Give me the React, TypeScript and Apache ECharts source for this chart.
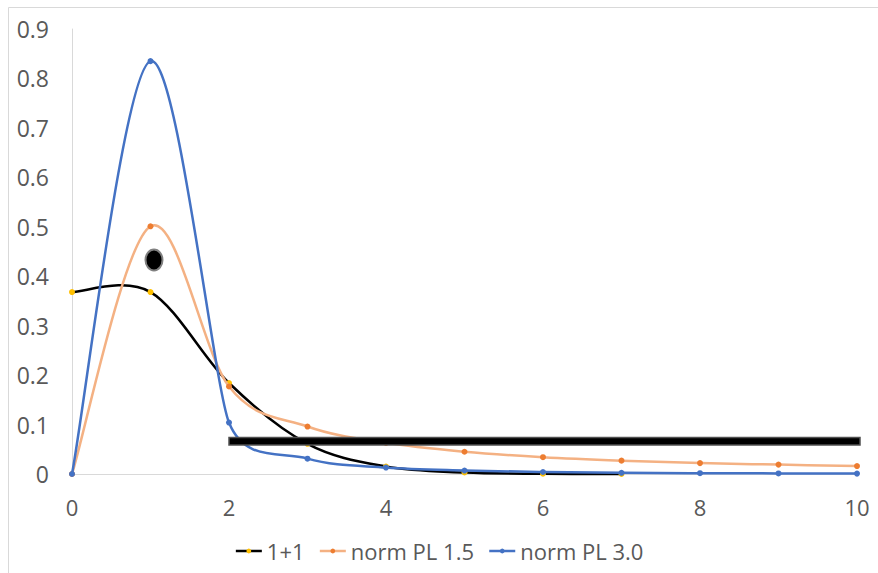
import React, { useEffect, useRef } from "react";
import * as echarts from "echarts";

const xValues = [0, 1, 2, 3, 4, 5, 6, 7, 8, 9, 10];
const seriesNames = ["1+1", "norm PL 1.5", "norm PL 3.0"];
const onePlusOne = [0.368, 0.368, 0.184, 0.061, 0.015, 0.003, 0.0005, 0.0001];
const normPL15 = [0, 0.501, 0.177, 0.096, 0.063, 0.045, 0.034, 0.027, 0.022, 0.019, 0.016];
const normPL30 = [0, 0.835, 0.104, 0.031, 0.013, 0.007, 0.004, 0.0024, 0.0016, 0.0012, 0.0008];
const lineColors = ["#000000", "#F4B183", "#4472C4"];
const markerColors = ["#FFC000", "#ED7D31", "#4472C4"];

const FONT = "'Open Sans', 'Noto Sans', sans-serif";
const LINE_W = 2.5;

const dist = (a: number[], b: number[]) => Math.hypot(b[0] - a[0], b[1] - a[1]);

// tangent offset vector at point cur (Excel-like smoothing with clamping)
function tangent(prev: number[], cur: number[], next: number[]) {
  const dab = dist(prev, next);
  if (dab === 0) return [0, 0];
  const segs = [dist(prev, cur), dist(cur, next)].filter((d) => d > 0);
  const m = Math.min(...segs);
  let f = 1 / 6;
  if (dab * f > m / 2) f = m / (2 * dab);
  return [(next[0] - prev[0]) * f, (next[1] - prev[1]) * f];
}

function makeCurveRenderer(color: string, n: number) {
  return (params: any, api: any) => {
    const i = params.dataIndex;
    if (i >= n - 1) return null;
    const pt = (k: number) => {
      const kk = Math.max(0, Math.min(n - 1, k));
      return api.coord([api.value(0, kk), api.value(1, kk)]);
    };
    const p0 = pt(i - 1);
    const p1 = pt(i);
    const p2 = pt(i + 1);
    const p3 = pt(i + 2);
    const t1 = tangent(p0, p1, p2);
    const t2 = tangent(p1, p2, p3);
    return {
      type: "bezierCurve",
      silent: true,
      shape: {
        x1: p1[0],
        y1: p1[1],
        cpx1: p1[0] + t1[0],
        cpy1: p1[1] + t1[1],
        cpx2: p2[0] - t2[0],
        cpy2: p2[1] - t2[1],
        x2: p2[0],
        y2: p2[1],
      },
      style: { stroke: color, lineWidth: LINE_W, fill: null, lineCap: "round" },
    };
  };
}

export default function App() {
  const ref = useRef<HTMLDivElement>(null);
  useEffect(() => {
    if (!ref.current) return;
    const chart = echarts.init(ref.current, undefined, { renderer: "svg" });
    const allData = [onePlusOne, normPL15, normPL30];
    const series: any[] = [];
    allData.forEach((vals, i) => {
      const pts = vals.map((v, j) => [xValues[j], v]);
      series.push({
        name: seriesNames[i] + " curve",
        type: "custom",
        renderItem: makeCurveRenderer(lineColors[i], pts.length),
        data: pts,
        encode: { x: 0, y: 1 },
        clip: false,
        z: 2 + i * 2,
      });
      series.push({
        name: seriesNames[i],
        type: "line",
        data: pts,
        symbol: "circle",
        symbolSize: 6,
        showSymbol: true,
        lineStyle: { color: lineColors[i], width: LINE_W, opacity: 0 },
        itemStyle: { color: markerColors[i] },
        z: 3 + i * 2,
      });
    });
    chart.setOption({
      animation: false,
      backgroundColor: "#ffffff",
      grid: { left: 72, right: 21, top: 29, bottom: 99 },
      xAxis: {
        type: "value",
        min: 0,
        max: 10,
        interval: 2,
        axisLine: { show: true, lineStyle: { color: "#D9D9D9", width: 1 } },
        axisTick: { show: false },
        splitLine: { show: false },
        axisLabel: { color: "#595959", fontSize: 22, fontFamily: FONT, margin: 22 },
      },
      yAxis: {
        type: "value",
        min: 0,
        max: 0.9,
        interval: 0.1,
        axisLine: { show: true, lineStyle: { color: "#D9D9D9", width: 1 } },
        axisTick: { show: false },
        splitLine: { show: false },
        axisLabel: { color: "#595959", fontSize: 23, fontFamily: FONT, margin: 23 },
      },
      legend: {
        data: seriesNames.map((name, i) => ({
          name,
          lineStyle: { color: lineColors[i], width: LINE_W, opacity: 1 },
          itemStyle: { color: markerColors[i] },
        })),
        bottom: 6,
        left: "center",
        itemWidth: 26,
        itemHeight: 6,
        itemGap: 14,
        textStyle: { color: "#595959", fontSize: 22, fontFamily: FONT },
      },
      series,
      graphic: [
        {
          type: "rect",
          silent: true,
          z: 100,
          shape: { x: 8.5, y: 7.5, width: 900, height: 600 },
          style: { fill: "none", stroke: "#D9D9D9", lineWidth: 1 },
        },
        {
          type: "ellipse",
          z: 100,
          shape: { cx: 154, cy: 260, rx: 8.5, ry: 10.5 },
          style: { fill: "#000000", stroke: "#808080", lineWidth: 2 },
        },
        {
          type: "rect",
          z: 100,
          shape: { x: 229, y: 437.5, width: 631, height: 7.5 },
          style: { fill: "#000000", stroke: "#505050", lineWidth: 1.5 },
        },
      ],
    });
    return () => chart.dispose();
  }, []);
  return (
    <div
      ref={ref}
      style={{ position: "absolute", left: 0, top: 0, width: 878, height: 573 }}
    />
  );
}
